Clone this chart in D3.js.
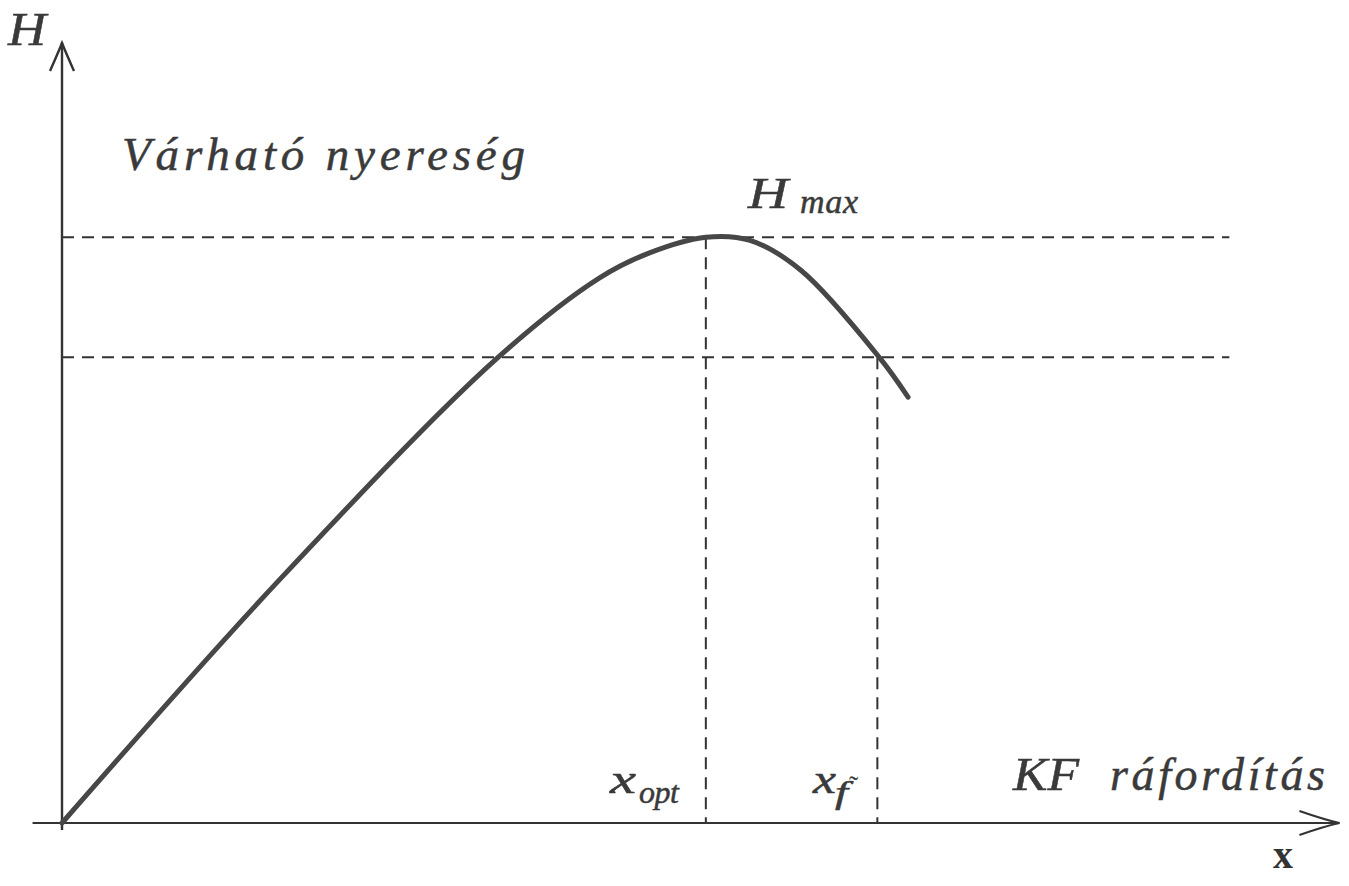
<!DOCTYPE html>
<html>
<head>
<meta charset="utf-8">
<script src="https://cdn.jsdelivr.net/npm/d3@7"></script>
<style>
body{margin:0;background:#fff}
svg{display:block}
</style>
</head>
<body>
<svg id="chart" width="1349" height="886"></svg>
<script>
// curve data (arbitrary units, 0..100 each way)
var curveX=[0,17.0,34.0,42.0,45.9,50.3,53.75,57.7,63.9,66.1]
var curveY=[0,31.2,59.6,69.9,73.1,75.1,74.7,70.9,59.6,54.6]
var xOpt=50.3, xF=63.7
var hMax=75.1, hF=59.7
var guideEnd=91.2   // where the horizontal guides stop

var svg=d3.select('#chart')
var x=d3.scaleLinear().domain([0,100]).range([62,1342])
var y=d3.scaleLinear().domain([0,100]).range([823,43])
var ink='#333'
var serif="'Liberation Serif','Times New Roman',Times,'DejaVu Serif',serif"

// axes
svg.append('line')
    .attr('x1',x(0)).attr('y1',y(-0.9)).attr('x2',x(0)).attr('y2',y(100.1))
    .attr('stroke',ink).attr('stroke-width',2.4)
svg.append('line')
    .attr('x1',x(-2.3)).attr('y1',y(0)).attr('x2',x(99.8)).attr('y2',y(0))
    .attr('stroke',ink).attr('stroke-width',2.2)
// arrow heads (open)
svg.append('path')
    .attr('d',`M${x(0)-12},${y(100)+28} Q${x(0)-4},${y(100)+10} ${x(0)},${y(100)} Q${x(0)+4},${y(100)+10} ${x(0)+12},${y(100)+28}`)
    .attr('fill','none').attr('stroke',ink).attr('stroke-width',2.4)
svg.append('path')
    .attr('d',`M${x(99.8)-40},${y(0)-12} Q${x(99.8)-14},${y(0)-3} ${x(99.8)},${y(0)} Q${x(99.8)-14},${y(0)+3} ${x(99.8)-40},${y(0)+12}`)
    .attr('fill','none').attr('stroke',ink).attr('stroke-width',2.2)

// dashed guides
var guides=[
    [0,hMax,guideEnd,hMax],
    [0,hF,guideEnd,hF],
    [xOpt,hMax,xOpt,0],
    [xF,hF,xF,0]
]
svg.append('g').selectAll('line')
    .data(guides)
    .join('line')
    .attr('x1',d=>x(d[0])).attr('y1',d=>y(d[1]))
    .attr('x2',d=>x(d[2])).attr('y2',d=>y(d[3]))
    .attr('stroke',ink).attr('stroke-width',2)
    .attr('stroke-dasharray','12,8')

// profit curve
var pts=d3.zip(curveX,curveY)
var line=d3.line().x(d=>x(d[0])).y(d=>y(d[1])).curve(d3.curveCatmullRom.alpha(0.5))
svg.append('path')
    .attr('d',line(pts))
    .attr('fill','none').attr('stroke','#474747').attr('stroke-width',5)
    .attr('stroke-linecap','round')

// labels: [text, x, baseline, font size, width, how to fit]
var labels=[
    ['H',8,45,46,38,'spacingAndGlyphs'],
    ['Várható nyereség',122,170,47,403,'spacing'],
    ['H',748,208,44,40,'spacingAndGlyphs'],
    ['max',800,213,34,58,'spacing'],
    ['x',610,793,42,26,'spacingAndGlyphs'],
    ['opt',639,803,32,40,'spacing'],
    ['x',813,793,42,23,'spacingAndGlyphs'],
    ['f',835,803,32,13,'spacingAndGlyphs'],
    ['KF',1013,790,46,66,'spacingAndGlyphs'],
    ['ráfordítás',1110,790,46,215,'spacing']
]
svg.append('g').selectAll('text')
    .data(labels)
    .join('text')
    .attr('x',d=>d[1]).attr('y',d=>d[2])
    .attr('font-size',d=>d[3])
    .attr('textLength',d=>d[4]).attr('lengthAdjust',d=>d[5])
    .style('font-family',serif).style('font-style','italic')
    .attr('fill','#3a3a3a').attr('stroke','#3a3a3a').attr('stroke-width',0.5)
    .text(d=>d[0])
// the little tilde after x_f
svg.append('text').attr('x',849).attr('y',795)
    .attr('font-size',28).style('font-family',serif)
    .attr('fill','#3a3a3a').text('˜')
svg.append('text').attr('x',1273).attr('y',868)
    .attr('font-size',40).attr('font-weight','bold')
    .style('font-family',serif).attr('fill','#333').text('x')
</script>
</body>
</html>
